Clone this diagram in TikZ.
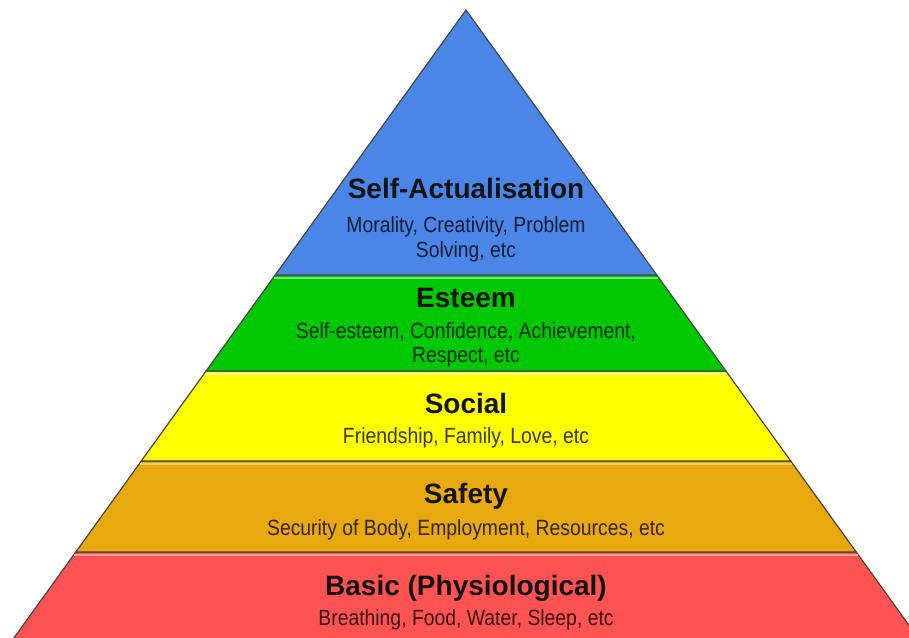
\documentclass[tikz,border=0pt]{standalone}
\usepackage{fontspec}
\setmainfont{Liberation Sans}
\newfontfamily\subfont[FakeStretch=0.88]{Liberation Sans}
\definecolor{cblue}{RGB}{74,134,232}
\definecolor{cgreen}{RGB}{0,200,0}
\definecolor{cyellow}{RGB}{255,255,0}
\definecolor{corange}{RGB}{232,169,14}
\definecolor{cred}{RGB}{255,82,82}
\definecolor{cedge}{RGB}{70,70,60}
\begin{document}
\begin{tikzpicture}[x=1pt,y=-1pt,
  band/.style={draw=cedge,line width=1.2pt,line join=miter},
  gloss/.style={line width=1.6pt},
  title/.style={anchor=base,inner sep=0pt,text=black!92,font=\fontsize{28}{31}\selectfont\bfseries},
  sub/.style={anchor=base,inner sep=0pt,text=black,text opacity=0.78,font=\subfont\fontsize{22}{25}\selectfont}]
\useasboundingbox (0,0) rectangle (909,637);
\fill[white] (0,0) rectangle (909,637);
\begin{scope}
\clip (0,0) rectangle (909,637);
% bands
\path[band,fill=cred]    (75.8,552) -- (856.2,552) -- (919.6,640) -- (12.4,640) -- cycle;
\path[band,fill=corange] (141.3,461) -- (790.7,461) -- (856.2,552) -- (75.8,552) -- cycle;
\path[band,fill=cyellow] (206.1,371) -- (725.9,371) -- (790.7,461) -- (141.3,461) -- cycle;
\path[band,fill=cgreen]  (275.2,275) -- (656.8,275) -- (725.9,371) -- (206.1,371) -- cycle;
\path[band,fill=cblue]   (466,10) -- (656.8,275) -- (275.2,275) -- cycle;
% glossy highlights under each top edge
\draw[gloss,cred!55!white]    (74,555) -- (858,555);
\draw[gloss,corange!60!white] (140,464) -- (792,464);
\draw[gloss,cyellow!40!white] (205,374) -- (727,374);
\draw[gloss,cgreen!55!white]  (274,278) -- (658,278);
\end{scope}
% texts
\node[title] (t1) at (466,198) {Self-Actualisation};
\node[sub] (s1a) at (466,232) {Morality, Creativity, Problem};
\node[sub] (s1b) at (466,257) {Solving, etc};
\node[title] (t2) at (466,307) {Esteem};
\node[sub] (s2a) at (466,338) {Self-esteem, Confidence, Achievement,};
\node[sub] (s2b) at (466,362) {Respect, etc};
\node[title] (t3) at (466,413) {Social};
\node[sub] (s3) at (466,443) {Friendship, Family, Love, etc};
\node[title] (t4) at (466,503) {Safety};
\node[sub] (s4) at (466,535) {Security of Body, Employment, Resources, etc};
\node[title] (t5) at (466,595) {Basic (Physiological)};
\node[sub] (s5) at (466,625) {Breathing, Food, Water, Sleep, etc};
\end{tikzpicture}
\end{document}
